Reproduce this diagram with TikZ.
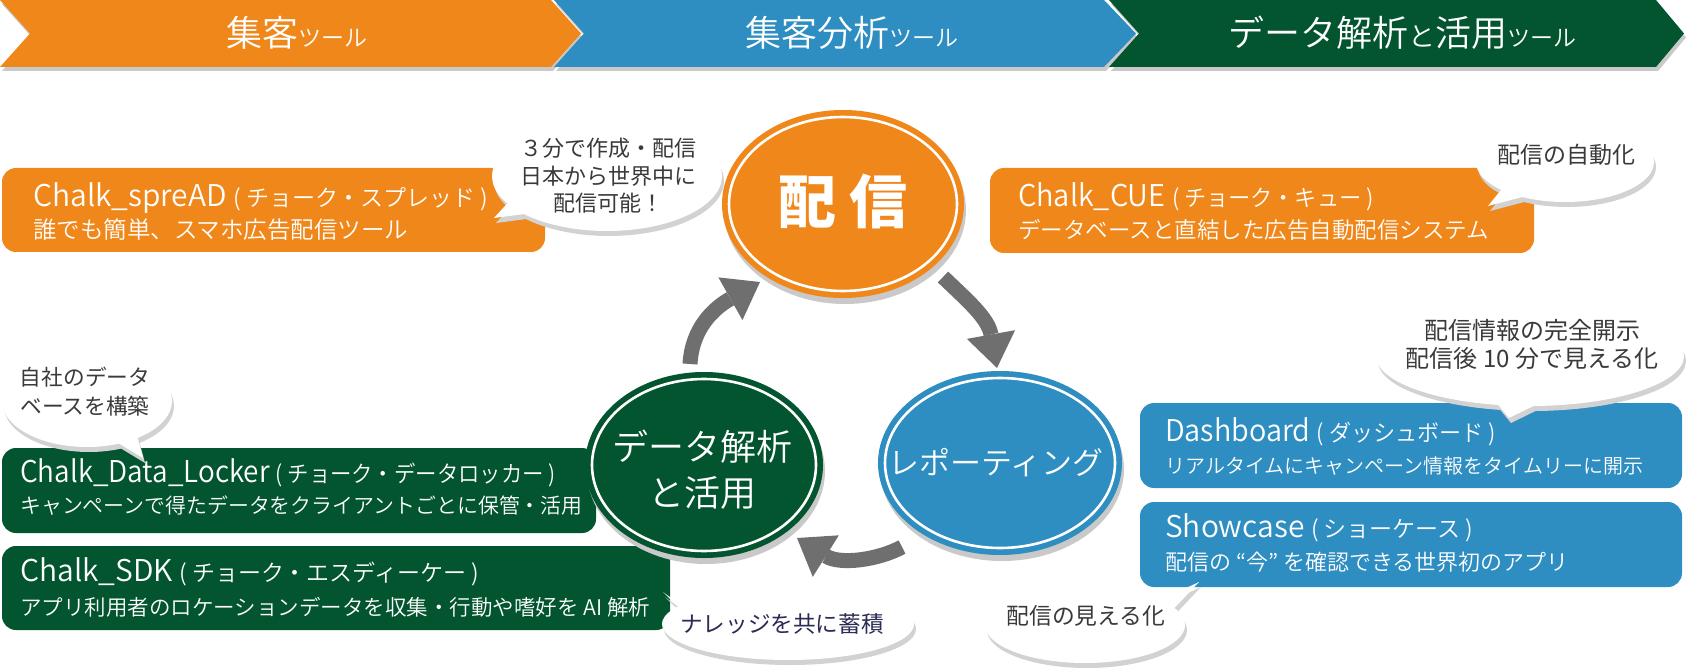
\documentclass[tikz,border=0pt]{standalone}
\usepackage{fontspec}
\setmainfont{Noto Sans CJK JP}
\newfontfamily\jpheavy{Noto Sans CJK JP Black}
\newfontfamily\jplight{Noto Sans CJK JP DemiLight}
\usetikzlibrary{shapes.geometric,arrows.meta,shadows}
\definecolor{cOr}{HTML}{F0871A}
\definecolor{cBl}{HTML}{2E8DC1}
\definecolor{cGr}{HTML}{03552F}
\definecolor{cAr}{HTML}{6F6F6F}
\definecolor{cSh}{HTML}{C9C9C9}
\definecolor{cBs}{HTML}{D2D2D2}
\definecolor{cTx}{HTML}{3A3A3A}
\definecolor{cNv}{HTML}{2B2B55}
\newcommand\fs[1]{\fontsize{#1}{#1}\selectfont}
\newcommand\hs[2]{\scalebox{#1}[1]{#2}}
% bubble shape: center, rx, ry, base1, tip, base2
\newcommand\spbubble[6]{%
  \begin{scope}[shift={(2,5)}]
    \fill[cBs] #1 ellipse[x radius=#2, y radius=#3];
    \fill[cBs] #4 -- #5 -- #6 -- cycle;
  \end{scope}
  \fill[white] #4 -- #5 -- #6 -- cycle;
  \fill[white] #1 ellipse[x radius=#2, y radius=#3];
}
\begin{document}
\begin{tikzpicture}[x=1pt,y=-1pt,line join=round,
  bannertxt/.style={text=white,anchor=base,inner sep=0pt,font=\jplight},
  boxr/.style={rounded corners=14pt},
  ln/.style={text=white,anchor=base west,inner sep=0pt,font=\jplight},
  stage/.style={ellipse,inner sep=0pt,text=white,align=center,
    drop shadow={shadow xshift=2pt,shadow yshift=-6pt,fill=cSh,opacity=1}},
  ring/.style={white,line width=2.6pt},
  arr/.style={cAr,line width=15pt,-{Triangle[width=49pt,length=34pt,line width=0pt]}},
  btext/.style={text=cTx,align=center,inner sep=0pt}]
\useasboundingbox (0,0) rectangle (1686,668);

% ---------- banners ----------
\begin{scope}[shift={(2,4)}]
  \fill[cSh] (0,0) -- (551,0) -- (581,33.5) -- (551,67) -- (0,67) -- (30,33.5) -- cycle;
  \fill[cSh] (554,0) -- (1104,0) -- (1136,33.5) -- (1104,67) -- (554,67) -- (584,33.5) -- cycle;
  \fill[cSh] (1109,0) -- (1656,0) -- (1684,33.5) -- (1656,67) -- (1109,67) -- (1139,33.5) -- cycle;
\end{scope}
\fill[cOr] (0,0) -- (551,0) -- (581,33.5) -- (551,67) -- (0,67) -- (30,33.5) -- cycle;
\fill[cBl] (554,0) -- (1104,0) -- (1136,33.5) -- (1104,67) -- (554,67) -- (584,33.5) -- cycle;
\fill[cGr] (1109,0) -- (1656,0) -- (1684,33.5) -- (1656,67) -- (1109,67) -- (1139,33.5) -- cycle;
\node[bannertxt] (bn1) at (297,47) {\fs{36}集客\fs{23}ツール};
\node[bannertxt] (bn2) at (852,47) {\fs{36}集客分析\fs{23}ツール};
\node[bannertxt] (bn3) at (1402,47) {\fs{36}データ解析\fs{27}と\fs{36}活用\fs{23}ツール};

% ---------- boxes ----------
\fill[cOr,boxr] (2,168) rectangle (545,252);
\node[ln] (sp1) at (33,207) {\fs{30}Chalk\_spreAD \fs{23}( チョーク・スプレッド )};
\node[ln] (sp2) at (33,239) {\fs{23.5}誰でも簡単、スマホ広告配信ツール};

\fill[cOr,boxr] (990,168) rectangle (1534,253);
\node[ln] (cu1) at (1018,207) {\hs{0.965}{\fs{30}Chalk\_CUE \fs{23}( チョーク・キュー )}};
\node[ln] (cu2) at (1018,239) {\fs{22.5}データベースと直結した広告自動配信システム};

\fill[cGr,boxr] (2,448) rectangle (596,533);
\node[ln] (lo1) at (20,482) {\hs{0.93}{\fs{30}Chalk\_Data\_Locker \fs{23}( チョーク・データロッカー )}};
\node[ln] (lo2) at (20,513) {\fs{20.9}キャンペーンで得たデータをクライアントごとに保管・活用};

\fill[cGr,boxr] (2,546) rectangle (670,630);
\node[ln] (sd1) at (20,581) {\fs{30}Chalk\_SDK \fs{23}( チョーク・エスディーケー )};
\node[ln] (sd2) at (20,615) {\fs{21.5}アプリ利用者のロケーションデータを収集・行動や嗜好を AI 解析};

\fill[cBl,boxr] (1140,403) rectangle (1682,488);
\node[ln] (da1) at (1165,441) {\hs{0.96}{\fs{30}Dashboard \fs{23}( ダッシュボード )}};
\node[ln] (da2) at (1165,473) {\fs{20}リアルタイムにキャンペーン情報をタイムリーに開示};

\fill[cBl,boxr] (1140,502) rectangle (1682,587);
\node[ln] (sh1) at (1165,537) {\fs{30}Showcase \fs{23}( ショーケース )};
\node[ln] (sh2) at (1165,570) {\fs{22}配信の “今” を確認できる世界初のアプリ};

% ---------- stages ----------
\node[stage,fill=cOr,minimum width=242pt,minimum height=188pt] (hai) at (843,204) {};
\draw[ring] (hai.center) ellipse[x radius=114, y radius=87];
\node[text=white,inner sep=0pt] (haiT) at (843,201) {\jpheavy\fs{58}配 信};

\node[stage,fill=cBl,minimum width=244pt,minimum height=184pt] (rep) at (1000,463) {};
\draw[ring] (rep.center) ellipse[x radius=115, y radius=85];
\node[text=white,inner sep=0pt,font=\jplight] (repT) at (996,463) {\fs{31}レポーティング};

\node[stage,fill=cGr,minimum width=238pt,minimum height=186pt] (dat) at (704,465) {};
\draw[ring] (dat.center) ellipse[x radius=112, y radius=86];
\node[text=white,inner sep=0pt,align=center,font=\jplight\fontsize{36}{46}\selectfont] (datT) at (702,470) {データ解析\\と活用};

% ---------- cycle arrows ----------
\coordinate (a1s) at (690,364);
\coordinate (a1e) at (760,282);
\coordinate (a2s) at (943,277);
\coordinate (a2e) at (997,368);
\coordinate (a3s) at (902,547);
\coordinate (a3e) at (797,538);
\draw[arr] (a1s) .. controls (692,328) and (714,308) .. (a1e);
\draw[arr] (a2s) .. controls (968,301) and (988,318) .. (a2e);
\draw[arr] (a3s) .. controls (878,560) and (840,565) .. (a3e);

% ---------- speech bubbles ----------
\spbubble{(607,176)}{115}{55}{(515,195)}{(494,218)}{(540,212)}
\node[btext,font=\fontsize{22}{27.5}\selectfont] (bb1) at (608,176) {３分で作成・配信\\日本から世界中に\\配信可能！};

\spbubble{(1565,162)}{89}{40}{(1505,185)}{(1488,206)}{(1530,195)}
\node[btext,font=\fs{23}] (bb2) at (1566,155) {配信の自動化};

\spbubble{(1530,356)}{154}{50}{(1490,395)}{(1509,418)}{(1550,398)}
\node[btext,font=\fontsize{24}{28}\selectfont] (bb3) at (1532,344) {配信情報の完全開示\\配信後 10 分で見える化};

\spbubble{(87,401)}{85}{46}{(105,435)}{(143,458)}{(135,428)}
\node[btext,font=\fontsize{21.7}{29}\selectfont] (bb4) at (85,392) {自社のデータ\\ベースを構築};

\spbubble{(1085,625)}{100}{38}{(1150,605)}{(1199,582)}{(1165,618)}
\node[btext,font=\fs{22.8}] (bb5) at (1086,616) {配信の見える化};

\spbubble{(788,624)}{126}{36}{(690,612)}{(663,592)}{(700,628)}
\node[btext,text=cNv,font=\fs{22.6}] (bb6) at (782,624) {ナレッジを共に蓄積};
\end{tikzpicture}
\end{document}
